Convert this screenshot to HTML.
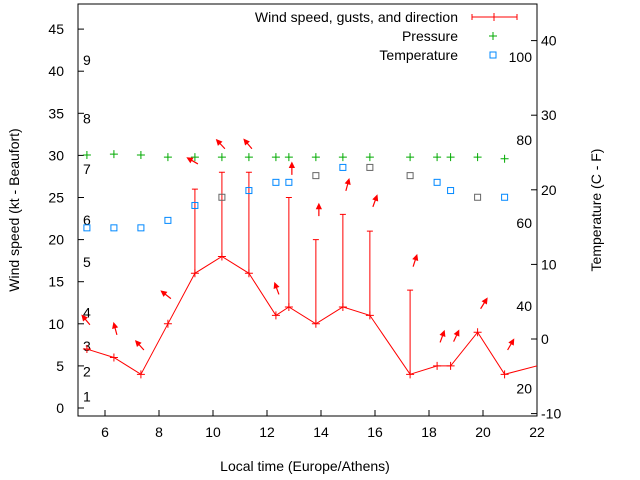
<!DOCTYPE html>
<html><head><meta charset="utf-8"><style>
body{margin:0;background:#fff}
svg{display:block;font-family:"Liberation Sans",sans-serif}
</style></head><body>
<svg id="chart" width="640" height="480">
<g id="g"></g>
</svg>
<script>
const hours=[5.33,6.33,7.33,8.33,9.33,10.33,11.33,12.33,12.81,13.81,14.81,15.81,17.3,18.3,18.8,19.8,20.8,22.6];
const windKt=[7,6,4,10,16,18,16,11,12,10,12,11,4,5,5,9,4,5.5];
const gustKt=[null,null,null,null,26,28,28,null,25,20,23,21,14,null,null,null,null,null];
const pressure=[30.05,30.15,30.05,29.8,29.8,29.8,29.8,29.8,29.8,29.8,29.8,29.8,29.8,29.8,29.8,29.8,29.6];
const tempC=[14.9,14.9,14.9,15.9,17.9,19,19.9,21,21,21.9,23,23,21.9,21,19.9,19,19];
const arrowY=[10.6,9.4,7.6,13.7,29.7,31.5,31.5,14.2,28.4,23.5,26.5,24.6,17.5,8.5,8.6,12.5,7.6];
const arrowDir=[-40,-15,-42,-52,-60,-43,-40,-20,0,0,15,20,18,20,25,32,30];
const xTicks=[6,8,10,12,14,16,18,20,22];
const yTicks=[0,5,10,15,20,25,30,35,40,45];
const y2Ticks=[-10,0,10,20,30,40];
const fTicks=[20,40,60,80,100];
const bftLabels=[1,2,3,4,5,6,7,8,9];
const bftKt=[1,4,7,11,17,22,28,34,41];
const grey=[5,9,11,12,15];

const L=78,R=537,T=4,B=416;
const X=h=>L+(h-5)*(R-L)/17;
const Y=v=>408-v*8.42;
const Y2=c=>339-c*7.46;
const g=document.getElementById('g');
const NS='http://www.w3.org/2000/svg';
function mk(t,a,p){const e=document.createElementNS(NS,t);for(const k in a)e.setAttribute(k,a[k]);(p||g).appendChild(e);return e;}
function txt(x,y,s,anchor,extra){const e=mk('text',Object.assign({x:x,y:y,'font-size':14,fill:'#000','text-anchor':anchor||'start'},extra||{}));e.textContent=s;return e;}

const clip=mk('clipPath',{id:'pc'});mk('rect',{x:L,y:T,width:R-L,height:B-T},clip);
const frame=mk('rect',{x:L,y:T,width:R-L,height:B-T,fill:'none',stroke:'#000'});



yTicks.forEach(v=>{const y=Y(v);mk('line',{x1:L,y1:y,x2:L+6,y2:y,stroke:'#000'});
const t=txt(64,y+5,String(v),'end');

});
y2Ticks.forEach(v=>{const y=Y2(v);mk('line',{x1:R-6,y1:y,x2:R,y2:y,stroke:'#000'});
const t=txt(541,y+5,String(v),'start');

});
xTicks.forEach(v=>{const x=X(v);mk('line',{x1:x,y1:B,x2:x,y2:B-6,stroke:'#000'});
const t=txt(x,437,String(v),'middle');

});
bftLabels.forEach((b,i)=>{const t=txt(83,Y(bftKt[i])+2,String(b),'start');

});
fTicks.forEach(f=>{const t=txt(532,Y2((f-32)*5/9)+5,String(f),'end');

});

const pg=mk('g',{'clip-path':'url(#pc)'});
// wind line
const pts=hours.map((h,i)=>X(h)+','+Y(windKt[i])).join(' ');
const wl=mk('polyline',{points:pts,fill:'none',stroke:'#f00','stroke-width':1},pg);


hours.forEach((h,i)=>{const x=X(h),y=Y(windKt[i]);
mk('path',{d:`M${x-4} ${y}h8M${x} ${y-4}v8`,stroke:'#f00'},pg);
if(gustKt[i]!=null){const gy=Y(gustKt[i]);
const gb=mk('path',{d:`M${x} ${y}V${gy}M${x-3} ${gy}h6`,stroke:'#f00',fill:'none'},pg);

}});
// pressure
pressure.forEach((p,i)=>{const x=X(hours[i]),y=Y(p);
const e=mk('path',{d:`M${x-4} ${y}h8M${x} ${y-4}v8`,stroke:'#0a0'},pg);

});
// temperature
tempC.forEach((c,i)=>{const x=X(hours[i]),y=Y2(c);
const e=mk('rect',{x:x-3,y:y-3,width:6,height:6,fill:'none',stroke:grey.includes(i)?'#666':'#08f','stroke-width':1},pg);

});
// arrows
arrowDir.forEach((d,i)=>{const x=X(hours[i])+3,y=Y(arrowY[i])+6;const a=d*Math.PI/180;
const hx=x+12*Math.sin(a),hy=y-12*Math.cos(a);
const b1=a+Math.PI-0.45,b2=a+Math.PI+0.45;
const e=mk('path',{d:`M${x} ${y}L${hx} ${hy}M${hx} ${hy}L${hx+5*Math.sin(b1)} ${hy-5*Math.cos(b1)}L${hx+5*Math.sin(b2)} ${hy-5*Math.cos(b2)}Z`,stroke:'#f00',fill:'#f00','stroke-width':1.2},pg);

});

// legend
let t=txt(458,22,'Wind speed, gusts, and direction','end');


mk('path',{d:'M472 17h45M472 14v6M517 14v6M494 13v8',stroke:'#f00'});
t=txt(458,41,'Pressure','end');


mk('path',{d:'M489 36h8M493 32v8',stroke:'#0a0'});
t=txt(458,60,'Temperature','end');


mk('rect',{x:490,y:52,width:6,height:6,fill:'none',stroke:'#08f'});

t=txt(305,471,'Local time (Europe/Athens)','middle');


t=txt(0,0,'Wind speed (kt - Beaufort)','middle',{transform:'translate(19,210) rotate(-90)'});


t=txt(0,0,'Temperature (C - F)','middle',{transform:'translate(601,210) rotate(-90)'});


</script>
</body></html>
